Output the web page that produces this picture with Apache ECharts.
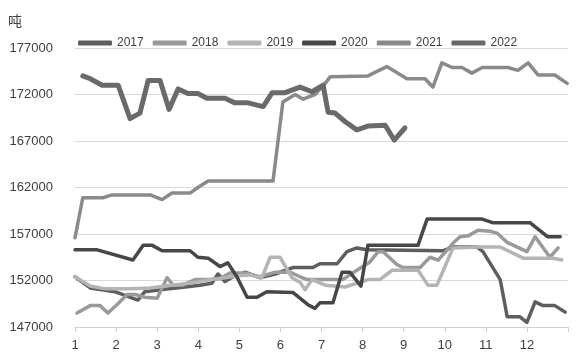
<!DOCTYPE html>
<html><head><meta charset="utf-8">
<script src="https://cdn.jsdelivr.net/npm/echarts@6/dist/echarts.min.js"></script>
<style>html,body{margin:0;padding:0;background:#fff}#c{width:586px;height:363px}</style>
</head><body><div id="c"></div>
<script>
const years = ['2017', '2018', '2019', '2020', '2021', '2022'];
const xTickLabels = ['1','2','3','4','5','6','7','8','9','10','11','12'];
const yTicks = [147000, 152000, 157000, 162000, 167000, 172000, 177000];
const unitLabel = '吨';

const months2017 = [1.00,1.37,1.97,2.53,2.70,3.07,3.68,4.04,4.33,4.48,4.65,4.89,5.14,5.50,5.87,6.31,6.79,6.96,7.38,7.62,7.86,8.11,9.96,10.20,10.79,10.93,11.35,11.52,11.83,12.00,12.20,12.39,12.68,12.93];
const values2017 = [152400,151200,150800,149900,150800,151000,151300,151500,151700,152700,151900,152500,152900,152300,152700,153400,153400,153800,153800,155100,155500,155300,155200,155600,155600,155100,152100,148100,148100,147500,149700,149300,149300,148600];

const months2018 = [1.05,1.37,1.61,1.80,2.02,2.27,2.46,2.70,3.00,3.24,3.39,3.63,3.92,4.29,4.53,4.77,5.14,5.50,5.87,6.23,6.48,6.65,7.52,7.86,8.18,8.38,8.50,8.84,8.98,9.40,9.64,9.84,10.20,10.37,10.57,10.81,11.10,11.27,11.52,12.00,12.20,12.56,12.76];
const values2018 = [148500,149300,149300,148500,149400,150500,150500,150200,150100,152300,151500,151500,152100,152100,152200,152800,152800,152400,152900,152900,152400,152100,152100,153100,154000,155100,155100,153700,153400,153400,154500,154200,156000,156700,156800,157400,157300,157100,156100,155100,156700,154500,155500];

const months2019 = [1.00,1.37,1.73,2.34,2.83,3.19,3.56,3.92,4.29,4.65,4.97,5.26,5.55,5.75,5.99,6.28,6.48,6.60,6.77,7.09,7.57,7.94,8.13,8.42,8.72,9.35,9.59,9.81,10.20,10.79,11.35,11.91,12.64,12.85];
const values2019 = [152400,151400,151100,151100,151200,151400,151600,151800,152100,152300,152500,152600,152300,154500,154500,152300,151800,151000,152100,151500,151300,151800,152100,152100,153100,153100,151500,151500,155500,155600,155600,154400,154400,154200];

const months2020 = [1.00,1.54,2.41,2.66,2.87,3.12,3.80,3.99,4.24,4.53,4.72,4.94,5.19,5.43,5.67,6.31,6.67,6.84,6.96,7.28,7.50,7.69,7.96,8.13,9.35,9.57,10.91,11.18,12.08,12.51,12.81];
const values2020 = [155300,155300,154200,155800,155800,155200,155200,154500,154400,153500,153900,152400,150200,150200,150800,150700,149400,149000,149600,149600,152900,152900,151400,155800,155800,158600,158600,158200,158200,156700,156700];

const months2021 = [1.00,1.19,1.68,1.90,2.83,3.12,3.36,3.80,3.99,4.24,5.82,6.06,6.36,6.55,6.84,7.09,7.21,8.13,8.59,9.08,9.52,9.71,9.93,10.18,10.42,10.66,10.91,11.54,11.78,12.03,12.27,12.68,12.98];
const values2021 = [156600,160900,160900,161200,161200,160700,161400,161400,162000,162700,162700,171200,172000,171500,172000,173200,173900,174000,175000,173700,173700,172800,175400,174900,174900,174300,174900,174900,174600,175400,174100,174100,173200];

const months2022 = [1.19,1.37,1.66,2.05,2.34,2.58,2.78,3.07,3.29,3.51,3.75,3.99,4.21,4.65,4.89,5.21,5.58,5.80,6.11,6.48,6.77,7.04,7.16,7.33,7.57,7.86,8.13,8.55,8.77,9.03];
const values2022 = [174000,173700,173000,173000,169400,170000,173500,173500,170400,172600,172100,172100,171600,171600,171100,171100,170700,172200,172200,172800,172300,173000,170100,170000,169100,168200,168600,168700,167100,168400];

const monthsBy = [months2017, months2018, months2019, months2020, months2021, months2022];
const valuesBy = [values2017, values2018, values2019, values2020, values2021, values2022];
const colors = ['#5e5e5e', '#9a9a9a', '#b4b4b4', '#474747', '#8a8a8a', '#6a6a6a'];
const widths = [3.5, 3.5, 3.5, 3.5, 3.5, 5];

const font = '"Liberation Sans", Arial, sans-serif';
const chart = echarts.init(document.getElementById('c'), null, {renderer: 'canvas'});

const series = years.map((y, i) => ({
  name: y,
  type: 'line',
  data: monthsBy[i].map((m, k) => [m, valuesBy[i][k]]),
  showSymbol: false,
  symbol: 'none',
  lineStyle: {color: colors[i], width: widths[i], cap: 'round', join: 'round'},
  itemStyle: {color: colors[i]},
  animation: false
}));

chart.setOption({
  animation: false,
  backgroundColor: '#ffffff',
  textStyle: {fontFamily: font},
  title: {
    text: unitLabel, left: 3, top: 9,
    textStyle: {fontSize: 14, fontWeight: 'normal', color: '#404040', fontFamily: '"Noto Sans CJK SC", sans-serif'}
  },
  legend: {
    data: years,
    left: 73, top: 32,
    itemWidth: 34, itemHeight: 5, itemGap: 9,
    icon: 'roundRect',
    textStyle: {fontSize: 12, color: '#404040', fontFamily: font}
  },
  grid: {left: 75, right: 18, top: 48, bottom: 36, containLabel: false},
  xAxis: {
    type: 'value', min: 1, max: 13, interval: 1,
    axisLine: {show: true, lineStyle: {color: '#d0d0d0', width: 1}},
    axisTick: {show: true, length: 5, lineStyle: {color: '#d0d0d0'}},
    splitLine: {show: false},
    axisLabel: {
      margin: 12, fontSize: 13, color: '#404040', fontFamily: font,
      formatter: v => (v >= 1 && v <= 12 ? xTickLabels[v - 1] : '')
    }
  },
  yAxis: {
    type: 'value', min: yTicks[0], max: yTicks[yTicks.length - 1], interval: 5000,
    axisLine: {show: false}, axisTick: {show: false},
    splitLine: {show: true, lineStyle: {color: '#d9d9d9', width: 1}},
    axisLabel: {margin: 22, fontSize: 13, color: '#404040', fontFamily: font, formatter: v => String(v)}
  },
  series: series
});
</script>
</body></html>
